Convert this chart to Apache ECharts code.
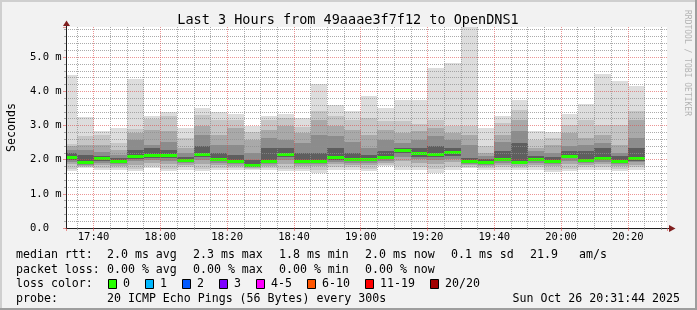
<!DOCTYPE html>
<html><head><meta charset="utf-8">
<script src="https://cdn.jsdelivr.net/npm/echarts@6/dist/echarts.min.js"></script>
<style>html,body{margin:0;padding:0;background:#f2f2f2}#c{width:697px;height:310px}</style>
</head><body><div id="c"></div>
<script>
// ---- data (milliseconds) ----
const binStarts = ['17:30','17:35','17:40','17:45','17:50','17:55','18:00','18:05','18:10','18:15','18:20','18:25','18:30','18:35','18:40','18:45','18:50','18:55','19:00','19:05','19:10','19:15','19:20','19:25','19:30','19:35','19:40','19:45','19:50','19:55','20:00','20:05','20:10','20:15','20:20'];
const binMinutes = 5;
const hi0 = [4.48,3.26,2.85,2.94,4.37,3.28,3.40,2.94,3.50,3.39,3.34,2.97,3.27,3.34,3.22,4.22,3.61,3.43,3.87,3.52,3.75,3.75,4.69,4.83,6.20,2.94,3.28,3.75,2.85,2.80,3.34,3.64,4.51,4.31,4.16];
const hi1 = [2.47,2.70,2.73,2.49,2.91,3.19,3.27,2.63,3.31,3.17,3.17,2.80,3.17,3.22,2.95,3.41,3.29,3.17,3.22,3.12,3.14,3.05,3.15,2.97,2.97,2.39,3.07,3.46,2.58,2.63,3.02,3.17,3.02,3.02,3.43];
const hi2 = [2.39,2.44,2.44,2.29,2.78,2.88,2.83,2.34,2.97,2.73,2.92,2.58,2.88,2.97,2.78,3.17,2.97,2.88,2.73,2.88,2.78,2.83,2.92,2.78,2.73,2.19,2.73,3.17,2.34,2.44,2.78,2.63,2.73,2.44,3.17];
const hi3 = [2.29,2.27,2.21,2.14,2.58,2.44,2.53,2.19,2.73,2.44,2.44,2.19,2.63,2.58,2.49,2.73,2.68,2.53,2.34,2.58,2.49,2.58,2.68,2.58,2.44,2.10,2.53,2.83,2.24,2.19,2.39,2.44,2.49,2.19,2.63];
const hi4 = [2.20,2.14,2.12,2.05,2.29,2.34,2.29,2.08,2.39,2.19,2.14,2.00,2.34,2.34,2.19,2.19,2.34,2.19,2.14,2.24,2.34,2.34,2.39,2.34,2.05,2.02,2.24,2.49,2.10,2.08,2.24,2.24,2.34,2.10,2.34];
const median = [2.06,1.92,2.03,1.94,2.09,2.11,2.12,1.98,2.16,2.00,1.96,1.84,1.95,2.14,1.96,1.96,2.07,1.99,2.00,2.06,2.27,2.17,2.15,2.20,1.94,1.92,1.99,1.93,1.99,1.96,2.10,1.98,2.04,1.94,2.02];
const lo4 = [1.99,1.88,1.96,1.90,2.02,2.04,2.05,1.93,2.08,1.95,1.92,1.81,1.91,2.07,1.92,1.92,2.00,1.95,1.95,2.01,2.18,2.09,2.08,2.12,1.90,1.88,1.95,1.90,1.95,1.92,2.04,1.94,1.99,1.90,1.97];
const lo3 = [1.93,1.85,1.90,1.86,1.95,1.98,1.97,1.89,2.00,1.89,1.87,1.78,1.87,1.98,1.87,1.87,1.94,1.90,1.90,1.96,2.08,2.01,1.99,2.03,1.87,1.85,1.90,1.86,1.90,1.87,1.97,1.90,1.93,1.86,1.92];
const lo2 = [1.86,1.82,1.83,1.81,1.84,1.90,1.86,1.84,1.88,1.83,1.82,1.75,1.82,1.87,1.81,1.80,1.86,1.84,1.83,1.90,1.96,1.90,1.86,1.92,1.83,1.81,1.84,1.81,1.84,1.80,1.87,1.84,1.86,1.80,1.85];
const lo1 = [1.74,1.79,1.76,1.76,1.73,1.80,1.74,1.77,1.74,1.76,1.76,1.72,1.76,1.74,1.73,1.70,1.77,1.77,1.74,1.84,1.80,1.78,1.72,1.79,1.79,1.76,1.77,1.76,1.77,1.71,1.74,1.77,1.77,1.72,1.77];
const lo0 = [1.66,1.75,1.69,1.71,1.66,1.75,1.66,1.71,1.66,1.71,1.71,1.69,1.71,1.66,1.66,1.61,1.71,1.71,1.66,1.80,1.71,1.71,1.61,1.71,1.75,1.71,1.71,1.71,1.71,1.63,1.66,1.71,1.71,1.66,1.71];
const xStart = '17:31:44', xEnd = '20:31:44';
const yMax = 5.88;
const title = 'Last 3 Hours from 49aaae3f7f12 to OpenDNS1';
const lossLabels = ['0','1','2','3','4-5','6-10','11-19','20/20'];
const lossColors = ['#26ff00','#00b8ff','#0059ff','#7e00ff','#ff00ff','#ff5500','#ff0000','#a10000'];
const row1 = [[16,'median rtt:'],[107,'2.0 ms avg'],[193,'2.3 ms max'],[279,'1.8 ms min'],[365,'2.0 ms now'],[451,'0.1 ms sd'],[530,'21.9'],[579,'am/s']];
const row2 = [[16,'packet loss:'],[107,'0.00 % avg'],[193,'0.00 % max'],[279,'0.00 % min'],[365,'0.00 % now']];
const probeText = '20 ICMP Echo Pings (56 Bytes) every 300s';
const dateText = 'Sun Oct 26 20:31:44 2025';

// ---- helpers ----
function toMin(s){const p=s.split(':').map(Number);return p[0]*60+p[1]+(p[2]||0)/60;}
function fmtTime(v){const h=Math.floor(v/60), m=Math.round(v-h*60);return String(h).padStart(2,'0')+':'+String(m).padStart(2,'0');}
const MONO = 'DejaVu Sans Mono';
const bands = [
  {lo:lo0, hi:hi0, color:'#dddddd'},
  {lo:lo1, hi:hi1, color:'#c6c6c6'},
  {lo:lo2, hi:hi2, color:'#a9a9a9'},
  {lo:lo3, hi:hi3, color:'#8c8c8c'},
  {lo:lo4, hi:hi4, color:'#5e5e5e'}
];
function clipTo(rect, cs){
  return echarts.graphic.clipRectByRect(rect,{x:cs.x,y:cs.y,width:cs.width,height:cs.height});
}
function bandRender(color){
  return function(params, api){
    const a = api.coord([api.value(0), api.value(3)]);
    const b = api.coord([api.value(1), api.value(2)]);
    const x0 = Math.round(a[0]), x1 = Math.round(b[0]);
    const r = clipTo({x:x0, y:Math.round(a[1]), width:x1-x0, height:Math.round(b[1])-Math.round(a[1])}, params.coordSys);
    return r ? {type:'rect', shape:r, style:{fill:color}} : null;
  };
}
function medianRender(params, api){
  const a = api.coord([api.value(0), api.value(2)]);
  const b = api.coord([api.value(1), api.value(2)]);
  const x0 = Math.round(a[0]), x1 = Math.round(b[0]);
  const r = clipTo({x:x0, y:Math.round(a[1]-1.5), width:x1-x0, height:3}, params.coordSys);
  return r ? {type:'rect', shape:r, style:{fill:lossColors[0]}} : null;
}
const series = bands.map(bd => ({
  type:'custom', renderItem: bandRender(bd.color), silent:true,
  encode:{x:[0,1], y:[2,3]},
  data: binStarts.map((s,i)=>[toMin(s), toMin(s)+binMinutes, bd.lo[i], bd.hi[i]])
}));
series.push({
  type:'custom', renderItem: medianRender, silent:true, encode:{x:[0,1], y:2},
  data: binStarts.map((s,i)=>[toMin(s), toMin(s)+binMinutes, median[i]])
});

const gridMinor = 'rgba(143,143,143,0.75)';
const gridMajor = 'rgba(222,79,79,0.6)';
const axisCol = '#1f1f1f';
const arrowCol = '#801f1f';

// ---- graphic decorations ----
const G = [];
G.push({type:'rect', shape:{x:0,y:0,width:697,height:2}, style:{fill:'#cfcfcf'}, silent:true});
G.push({type:'rect', shape:{x:0,y:0,width:2,height:310}, style:{fill:'#cfcfcf'}, silent:true});
G.push({type:'rect', shape:{x:695,y:0,width:2,height:310}, style:{fill:'#9e9e9e'}, silent:true});
G.push({type:'rect', shape:{x:0,y:308,width:697,height:2}, style:{fill:'#9e9e9e'}, silent:true});
G.push({type:'text', x:348, y:20, style:{text:title, font:'13.5px "'+MONO+'"', fill:'#000', align:'center', verticalAlign:'middle'}});
G.push({type:'text', x:687, y:63, rotation:-Math.PI/2, style:{text:'RRDTOOL / TOBI OETIKER', font:'8px "'+MONO+'"', fill:'#b4b4b4', align:'center', verticalAlign:'middle'}});
// axis arrows
G.push({type:'line', shape:{x1:66.5,y1:27,x2:66.5,y2:24}, style:{stroke:axisCol,lineWidth:1}});
G.push({type:'polygon', shape:{points:[[63,26],[70,26],[66.5,20.5]]}, style:{fill:arrowCol}});
G.push({type:'line', shape:{x1:667,y1:228.5,x2:670,y2:228.5}, style:{stroke:axisCol,lineWidth:1}});
G.push({type:'polygon', shape:{points:[[669,225],[669,232],[675.5,228.5]]}, style:{fill:arrowCol}});
// legend rows
const rowsY = [255, 269.5, 284, 298.5];
const font = '11.6px "'+MONO+'"';
row1.forEach(([x,t])=>G.push({type:'text', x:x, y:rowsY[0], style:{text:t, font:font, fill:'#000', verticalAlign:'middle'}}));
row2.forEach(([x,t])=>G.push({type:'text', x:x, y:rowsY[1], style:{text:t, font:font, fill:'#000', verticalAlign:'middle'}}));
G.push({type:'text', x:16, y:rowsY[2], style:{text:'loss color:', font:font, fill:'#000', verticalAlign:'middle'}});
const boxX = [108,145,182,219,256,307,365,430];
lossLabels.forEach((l,i)=>{
  G.push({type:'rect', shape:{x:boxX[i]+0.5, y:rowsY[2]-4.5, width:8, height:9}, style:{fill:lossColors[i], stroke:'#000', lineWidth:1}});
  G.push({type:'text', x:boxX[i]+15, y:rowsY[2], style:{text:l, font:font, fill:'#000', verticalAlign:'middle'}});
});
G.push({type:'text', x:16, y:rowsY[3], style:{text:'probe:', font:font, fill:'#000', verticalAlign:'middle'}});
G.push({type:'text', x:107, y:rowsY[3], style:{text:probeText, font:font, fill:'#000', verticalAlign:'middle'}});
G.push({type:'text', x:680, y:rowsY[3], style:{text:dateText, font:font, fill:'#000', align:'right', verticalAlign:'middle'}});

const chart = echarts.init(document.getElementById('c'), null, {renderer:'canvas'});
chart.setOption({
  animation:false,
  backgroundColor:'#f2f2f2',
  grid:{left:66, right:30, top:27, bottom:82, show:true, backgroundColor:'#ffffff', borderWidth:0, containLabel:false, outerBoundsMode:'none'},
  xAxis:{
    type:'value', min:toMin(xStart), max:toMin(xEnd), minInterval:20, maxInterval:20, splitNumber:9, z:3,
    axisLine:{show:true, onZero:false, lineStyle:{color:axisCol, width:1}},
    axisTick:{show:true, length:3, lineStyle:{color:gridMajor}},
    minorTick:{show:true, splitNumber:4, length:2, lineStyle:{color:gridMinor}},
    axisLabel:{showMinLabel:false, showMaxLabel:false, margin:4, fontFamily:MONO, fontSize:10.5, color:'#000', formatter:fmtTime},
    splitLine:{show:true, showMinLine:false, showMaxLine:false, lineStyle:{color:gridMajor, type:[1,1], width:1}},
    minorSplitLine:{show:true, lineStyle:{color:gridMinor, type:[1,1], width:1}}
  },
  yAxis:{
    type:'value', min:0, max:yMax, interval:1, z:3,
    axisLine:{show:true, lineStyle:{color:axisCol, width:1}},
    axisTick:{show:true, length:3, lineStyle:{color:gridMajor}},
    minorTick:{show:true, splitNumber:5, length:2, lineStyle:{color:gridMinor}},
    axisLabel:{showMaxLabel:false, align:'left', margin:36, fontFamily:MONO, fontSize:10.5, color:'#000',
      formatter:v => v===0 ? '0.0' : v.toFixed(1)+' m'},
    splitLine:{show:true, showMinLine:false, showMaxLine:false, lineStyle:{color:gridMajor, type:[1,1], width:1}},
    minorSplitLine:{show:true, lineStyle:{color:gridMinor, type:[1,1], width:1}},
    name:'Seconds', nameLocation:'middle', nameGap:48, nameRotate:90,
    nameTextStyle:{fontFamily:MONO, fontSize:11.6, color:'#000'}
  },
  series: series,
  graphic: G
});
</script></body></html>
